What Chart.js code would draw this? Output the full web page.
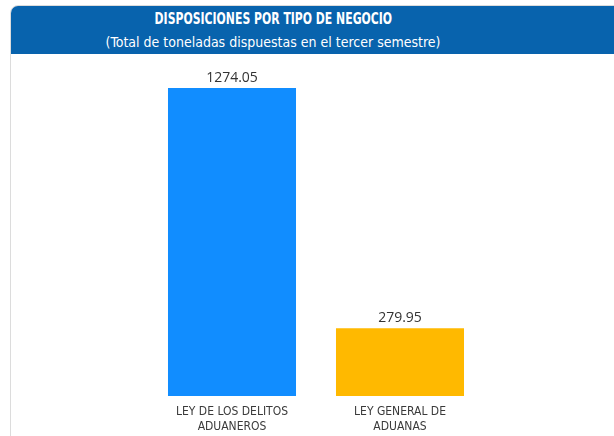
<!DOCTYPE html>
<html>
<head>
<meta charset="utf-8">
<script src="https://cdn.jsdelivr.net/npm/chart.js@4"></script>
<style>
  html, body { margin: 0; padding: 0; background: #fff; width: 614px; height: 436px; overflow: hidden; }
  .card { position: absolute; left: 10px; top: 5px; width: 700px; height: 500px; border: 1px solid #dcdcdc; border-radius: 8px; overflow: hidden; }
  .header { position: absolute; left: 0; top: 0; width: 100%; height: 48px; background: #0863ad; }
  .header .txt { position: absolute; left: 0; top: 0; width: 524px; text-align: center; color: #fff; font-family: 'DejaVu Sans Condensed', 'DejaVu Sans', sans-serif; }
  .t1 { font-weight: bold; font-size: 15px; line-height: 20px; padding-top: 3px; }
  .t1 span { display: inline-block; transform: scaleX(0.806); }
  .t2 { font-size: 14px; line-height: 20px; padding-top: 3px; }
  #wrap { position: absolute; left: 0; top: 53px; width: 614px; height: 389px; }
</style>
</head>
<body>
<div class="card">
  <div class="header">
    <div class="txt">
      <div class="t1"><span>DISPOSICIONES POR TIPO DE NEGOCIO</span></div>
      <div class="t2">(Total de toneladas dispuestas en el tercer semestre)</div>
    </div>
  </div>
</div>
<div id="wrap"><canvas id="chart"></canvas></div>
<script>
// datos del grafico
const categorias = [['LEY DE LOS DELITOS', 'ADUANEROS'], ['LEY GENERAL DE', 'ADUANAS']];
const toneladas = [1274.05, 279.95];
const colores = ['#118dff', '#ffb900'];

// etiquetas de valor encima de cada barra
const valueLabels = {
    id: 'valueLabels',
    afterDatasetsDraw(chart) {
        const ctx = chart.ctx;
        const meta = chart.getDatasetMeta(0);
        ctx.save();
        ctx.font = '14px "Open Sans", sans-serif';
        ctx.fillStyle = '#333';
        ctx.textAlign = 'center';
        ctx.textBaseline = 'bottom';
        meta.data.forEach((bar, i) => {
            ctx.fillText(toneladas[i].toFixed(2), bar.x, bar.y - 3);
        });
        ctx.restore();
    }
};

new Chart(document.getElementById('chart'), {
    type: 'bar',
    data: {
        labels: categorias,
        datasets: [{
            data: toneladas,
            backgroundColor: colores,
            borderWidth: 0,
            barPercentage: 0.762,
            categoryPercentage: 1
        }]
    },
    options: {
        responsive: true,
        maintainAspectRatio: false,
        animation: false,
        layout: { padding: { left: 148, right: 130, top: 35, bottom: 0 } },
        plugins: {
            legend: { display: false },
            tooltip: { enabled: false }
        },
        scales: {
            x: {
                grid: { display: false, drawTicks: false },
                border: { display: false },
                ticks: {
                    color: '#3a3a3a',
                    padding: 8,
                    font: { family: '"DejaVu Sans Condensed", "DejaVu Sans", sans-serif', size: 12, lineHeight: 1.25 }
                }
            },
            y: {
                display: false,
                min: 0,
                max: 1274.05
            }
        }
    },
    plugins: [valueLabels]
});
</script>
</body>
</html>
